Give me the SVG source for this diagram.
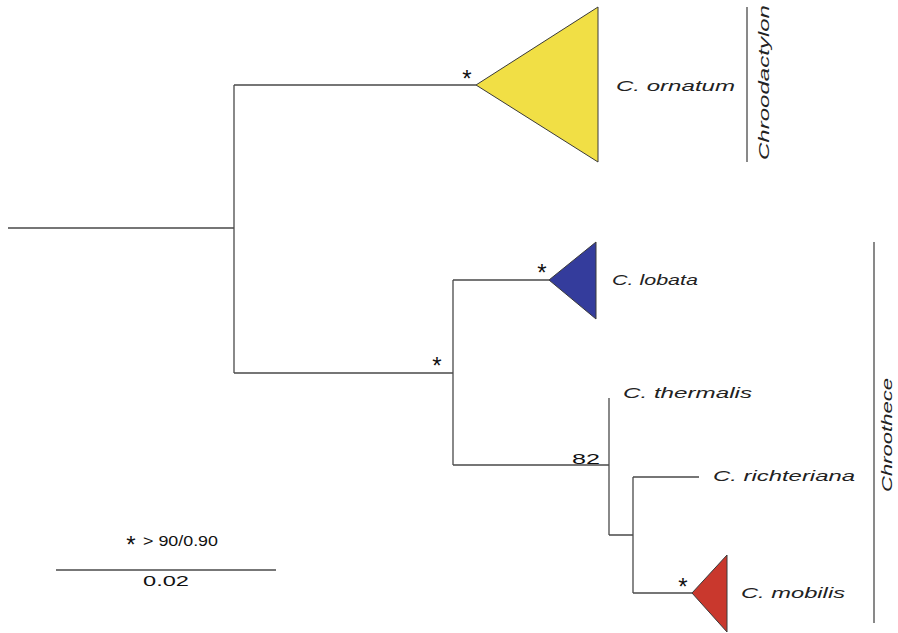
<svg xmlns="http://www.w3.org/2000/svg" width="898" height="633" viewBox="0 0 898 633">
<style>
.br{stroke:#4a4a4a;stroke-width:1.3;fill:none}
.tri{stroke:#3a3a3a;stroke-width:1}
.lab{font-family:"Liberation Sans",Arial,sans-serif;font-style:italic;font-size:14.5px;fill:#222}
.star{font-family:"Liberation Sans",Arial,sans-serif;font-size:24px;fill:#111;text-anchor:middle}
.sup{font-family:"Liberation Sans",Arial,sans-serif;font-size:15px;fill:#111}
.clade{font-family:"Liberation Sans",Arial,sans-serif;font-style:italic;font-size:14px;fill:#222}
</style>
<rect width="898" height="633" fill="#fff"/>
<g id="connectors">
<path class="br" d="M8,228H234M234,85V373M234,85H476M234,373H453M453,280V465M453,280H549M453,465H609M609,398V535M609,535H633M633,477V593M633,477H699M633,593H692"/>
</g>
<g id="ornatum">
<polygon class="tri" points="476,85 598,7 598,162" fill="#F1DF45"/>
<text class="star" x="467" y="87">*</text>
<text class="lab" x="616" y="91" textLength="119" lengthAdjust="spacingAndGlyphs">C. ornatum</text>
</g>
<g id="lobata">
<polygon class="tri" points="549,280 596,242 596,319" fill="#343C9C"/>
<text class="star" x="542" y="281">*</text>
<text class="lab" x="612" y="285" textLength="86" lengthAdjust="spacingAndGlyphs">C. lobata</text>
</g>
<g id="node-inner">
<text class="star" x="437" y="374">*</text>
</g>
<g id="thermalis">
<text class="lab" x="623" y="398" textLength="129" lengthAdjust="spacingAndGlyphs">C. thermalis</text>
</g>
<g id="node82">
<text class="sup" x="572" y="464" font-size="14" textLength="28" lengthAdjust="spacingAndGlyphs">82</text>
</g>
<g id="richteriana">
<text class="lab" x="713" y="481" textLength="142" lengthAdjust="spacingAndGlyphs">C. richteriana</text>
</g>
<g id="mobilis">
<polygon class="tri" points="692,593 727,555 727,632" fill="#C9382D"/>
<text class="star" x="683" y="595">*</text>
<text class="lab" x="741" y="598" textLength="104" lengthAdjust="spacingAndGlyphs">C. mobilis</text>
</g>
<g id="chroodactylon">
<line class="br" x1="747" y1="7" x2="747" y2="162"/>
<text class="clade" transform="translate(769,160) rotate(-90)" textLength="155" lengthAdjust="spacingAndGlyphs">Chroodactylon</text>
</g>
<g id="chroothece">
<line class="br" x1="874" y1="242" x2="874" y2="623"/>
<text class="clade" transform="translate(892,492) rotate(-90)" textLength="114" lengthAdjust="spacingAndGlyphs">Chroothece</text>
</g>
<g id="legend">
<text class="star" x="131" y="553" font-size="20">*</text>
<text class="sup" x="143" y="546" font-size="16" textLength="75" lengthAdjust="spacingAndGlyphs">&gt; 90/0.90</text>
<line class="br" x1="56" y1="570" x2="276" y2="570"/>
<text class="sup" x="143" y="586" font-size="14" textLength="46" lengthAdjust="spacingAndGlyphs">0.02</text>
</g>
</svg>
